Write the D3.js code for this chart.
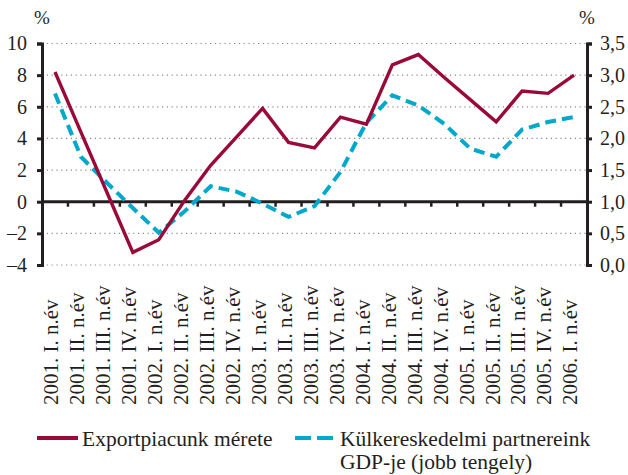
<!DOCTYPE html>
<html>
<head>
<meta charset="utf-8">
<script src="https://cdn.jsdelivr.net/npm/d3@7"></script>
<style>
  body { margin: 0; background: #fff; }
  svg text { font-family: "Liberation Serif", "Times New Roman", serif; fill: #231f20; }
</style>
</head>
<body>
<div id="chart"></div>
<script>
// Quarter labels (x axis)
const categories = [
    "2001. I. n.év", "2001. II. n.év", "2001. III. n.év", "2001. IV. n.év",
    "2002. I. n.év", "2002. II. n.év", "2002. III. n.év", "2002. IV. n.év",
    "2003. I. n.év", "2003. II. n.év", "2003. III. n.év", "2003. IV. n.év",
    "2004. I. n.év", "2004. II. n.év", "2004. III. n.év", "2004. IV. n.év",
    "2005. I. n.év", "2005. II. n.év", "2005. III. n.év", "2005. IV. n.év",
    "2006. I. n.év"
];

// Exportpiacunk mérete (left axis, %)
const exportMarket = [8.2, 4.4, 0.6, -3.2, -2.4, 0.1, 2.3, 4.1, 5.9, 3.75, 3.4, 5.35,
    4.9, 8.65, 9.3, 7.85, 6.45, 5.05, 7.0, 6.85, 8.0];

// Külkereskedelmi partnereink GDP-je (right axis, %)
const partnerGdp = [2.71, 1.71, 1.3, 0.9, 0.51, 0.85, 1.245, 1.16, 0.97, 0.76, 0.93, 1.47,
    2.25, 2.68, 2.52, 2.23, 1.84, 1.71, 2.14, 2.26, 2.34];

const leftTicks = [-4, -2, 0, 2, 4, 6, 8, 10];
const rightTicks = [0, 0.5, 1, 1.5, 2, 2.5, 3, 3.5];

const seriesNames = ["Exportpiacunk mérete", ["Külkereskedelmi partnereink", "GDP-je (jobb tengely)"]];

// Layout
const width = 628, height = 475;
const plot = { left: 42, right: 587, top: 43.5, bottom: 265 };
const ink = "#231f20", red = "#990a38", blue = "#00a9cb";

const svg = d3.select("#chart").append("svg")
    .attr("width", width).attr("height", height);

const x = d3.scaleBand().domain(categories).range([plot.left, plot.right]).padding(0);
const cx = d => x(d) + x.bandwidth() / 2;
const yL = d3.scaleLinear().domain([-4, 10]).range([plot.bottom, plot.top]);
const yR = d3.scaleLinear().domain([0, 3.5]).range([plot.bottom, plot.top]);

// Dotted gridlines
svg.append("g").selectAll("line").data(leftTicks.filter(d => d !== 0)).enter().append("line")
    .attr("x1", plot.left).attr("x2", plot.right)
    .attr("y1", d => yL(d)).attr("y2", d => yL(d))
    .attr("stroke", "#8a8a8a").attr("stroke-width", 1.2).attr("stroke-dasharray", "1.2,3.6");

// Left axis
const axL = svg.append("g").attr("transform", `translate(${plot.left},0)`)
    .call(d3.axisLeft(yL).tickValues(leftTicks).tickSize(5).tickPadding(10)
        .tickFormat(d => d < 0 ? "\u2013" + Math.abs(d) : d));

// Right axis
const axR = svg.append("g").attr("transform", `translate(${plot.right},0)`)
    .call(d3.axisRight(yR).tickValues(rightTicks).tickSize(5).tickPadding(8)
        .tickFormat(d => d3.format(".1f")(d).replace(".", ",")));

[axL, axR].forEach(ax => {
    ax.select(".domain").attr("stroke", ink).attr("stroke-width", 3);
    ax.selectAll(".tick line").attr("stroke", ink).attr("stroke-width", 3);
    ax.selectAll(".tick text").attr("font-size", 20).attr("fill", ink)
        .attr("font-family", "Liberation Serif");
});

// Zero line with category ticks at band edges
const y0 = yL(0);
svg.append("line").attr("x1", plot.left).attr("x2", plot.right)
    .attr("y1", y0).attr("y2", y0).attr("stroke", ink).attr("stroke-width", 3);
svg.append("g").selectAll("line").data(categories.slice(1)).enter().append("line")
    .attr("x1", d => x(d)).attr("x2", d => x(d))
    .attr("y1", y0).attr("y2", y0 + 5)
    .attr("stroke", ink).attr("stroke-width", 2.5);

// Category labels, rotated, aligned at bottom
svg.append("g").selectAll("text").data(categories).enter().append("text")
    .attr("transform", d => `translate(${cx(d) - 4},405) rotate(-90)`)
    .attr("dy", "0.35em")
    .attr("font-size", 21)
    .text(d => d);

// % units
svg.append("text").attr("x", plot.left).attr("y", 24).attr("text-anchor", "middle")
    .attr("font-size", 19).text("%");
svg.append("text").attr("x", plot.right).attr("y", 24).attr("text-anchor", "middle")
    .attr("font-size", 19).text("%");

// Lines
const lineL = d3.line().x((d, i) => cx(categories[i])).y(d => yL(d));
const lineR = d3.line().x((d, i) => cx(categories[i])).y(d => yR(d));

svg.append("path").datum(partnerGdp).attr("d", lineR)
    .attr("fill", "none").attr("stroke", blue).attr("stroke-width", 4)
    .attr("stroke-dasharray", "11,6");

svg.append("path").datum(exportMarket).attr("d", lineL)
    .attr("fill", "none").attr("stroke", red).attr("stroke-width", 3.4)
    .attr("stroke-linejoin", "miter");

// Legend
const leg = svg.append("g");
leg.append("line").attr("x1", 37).attr("x2", 78).attr("y1", 438).attr("y2", 438)
    .attr("stroke", red).attr("stroke-width", 4);
leg.append("text").attr("x", 82).attr("y", 446).attr("font-size", 21.5).text(seriesNames[0]);
leg.append("line").attr("x1", 295).attr("x2", 333).attr("y1", 438).attr("y2", 438)
    .attr("stroke", blue).attr("stroke-width", 4).attr("stroke-dasharray", "16,6");
leg.append("text").attr("x", 340).attr("y", 446).attr("font-size", 21.5).text(seriesNames[1][0]);
leg.append("text").attr("x", 340).attr("y", 469).attr("font-size", 21.5).text(seriesNames[1][1]);
</script>
</body>
</html>
